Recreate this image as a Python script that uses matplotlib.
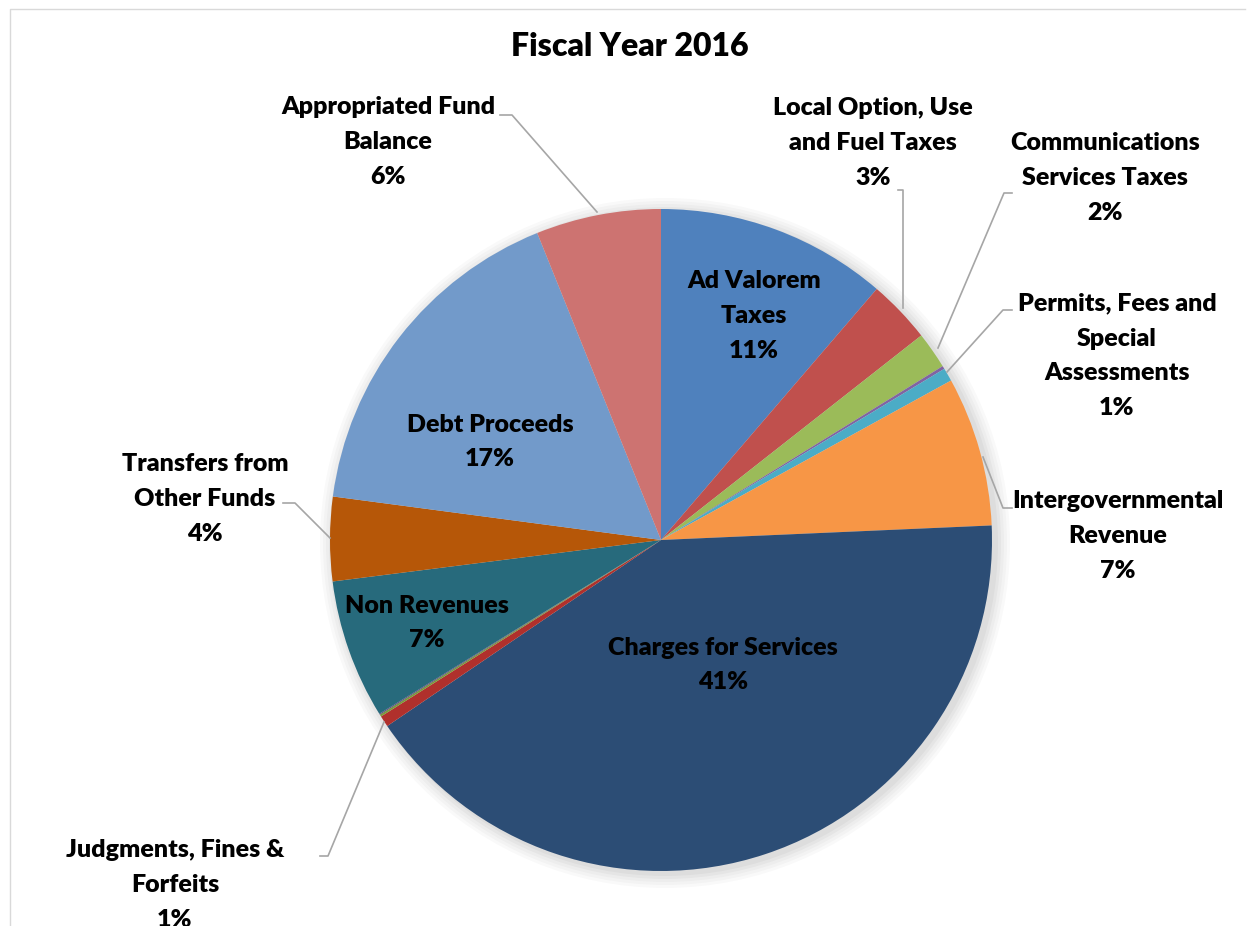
import matplotlib.pyplot as plt
from matplotlib.patches import Circle

plt.rcParams["font.family"] = ["Lato", "DejaVu Sans"]

# Revenue sources, clockwise from 12 o'clock (percent of total)
sources = [
    "Ad Valorem\nTaxes",
    "Local Option, Use\nand Fuel Taxes",
    "Communications\nServices Taxes",
    "Licenses",
    "Permits, Fees and\nSpecial\nAssessments",
    "Intergovernmental\nRevenue",
    "Charges for Services",
    "Judgments, Fines &\nForfeits",
    "Miscellaneous",
    "Interest",
    "Non Revenues",
    "Transfers from\nOther Funds",
    "Debt Proceeds",
    "Appropriated Fund\nBalance",
]
shares = [11.3, 3.1, 1.8, 0.15, 0.65, 7.3, 41.2, 0.55, 0.1, 0.05, 6.8, 4.1, 16.8, 6.1]
colors = ["#4F81BD", "#C0504D", "#9BBB59", "#8064A2", "#4BACC6", "#F79646",
          "#2C4D75", "#B0302C", "#7A9A3A", "#5E4A7E", "#276A7C", "#B65708",
          "#729ACA", "#CD7371"]

W, H = 1247, 926
fig = plt.figure(figsize=(W / 100, H / 100), dpi=100)
ax = fig.add_axes([0, 0, 1, 1])

def y_(py):
    return H - py

cx, cy, r = 661, y_(540), 331

# soft shadow behind the pie
for k, a in enumerate([0.025, 0.025, 0.025, 0.03, 0.03]):
    ax.add_patch(Circle((cx + 4, cy - 3), r + 14 - 3 * k, color="black", alpha=a,
                        lw=0, zorder=0))

wedges, _ = ax.pie(shares, colors=colors, startangle=90, counterclock=False,
                   center=(cx, cy), radius=r, frame=False,
                   wedgeprops=dict(edgecolor="none", linewidth=0))
for w in wedges:
    w.set_zorder(2)

# pie() resets the view, so fix pixel-like limits afterwards
ax.set_xlim(0, W)
ax.set_ylim(0, H)
ax.set_aspect("equal")
ax.axis("off")

total = sum(shares)

def pct(v):
    return f"{v / total * 100:.0f}%"

# label text centres (pixel coords) and leader paths
label_pos = {
    0: (754, 316),
    1: (873, 143),
    2: (1105, 178),
    4: (1117, 356),
    5: (1118, 536),
    6: (723, 665),
    7: (175, 885),
    10: (427, 623),
    11: (205, 499),
    12: (490, 442),
    13: (388, 142),
}
leaders = {
    13: [(500, 115), (512, 115), (597, 212)],
    1: [(898, 190), (903, 190), (903, 308)],
    2: [(1012, 193), (1004, 193), (938, 348)],
    4: [(1012, 310), (1003, 310), (947, 372)],
    5: [(1012, 508), (1003, 508), (983, 457)],
    11: [(283, 503), (295, 503), (330, 538)],
    7: [(320, 856), (328, 856), (384, 722)],
}

fs = 18
for i, (px, py) in label_pos.items():
    ax.text(px, y_(py), sources[i] + "\n" + pct(shares[i]), ha="center", va="center",
            fontsize=fs, fontweight="heavy", color="black", linespacing=1.72,
            zorder=5)

for i, pts in leaders.items():
    xs = [p[0] for p in pts]
    ys = [y_(p[1]) for p in pts]
    ax.plot(xs, ys, color="#A6A6A6", lw=1.2, zorder=4)

ax.text(630, y_(47), "Fiscal Year 2016", ha="center", va="center",
        fontsize=23, fontweight="heavy", color="black")

# chart-area border
ax.plot([10, 10, W - 2], [0, y_(9), y_(9)], color="#D9D9D9", lw=1.0, zorder=1)

fig.savefig("out.png", dpi=100)
